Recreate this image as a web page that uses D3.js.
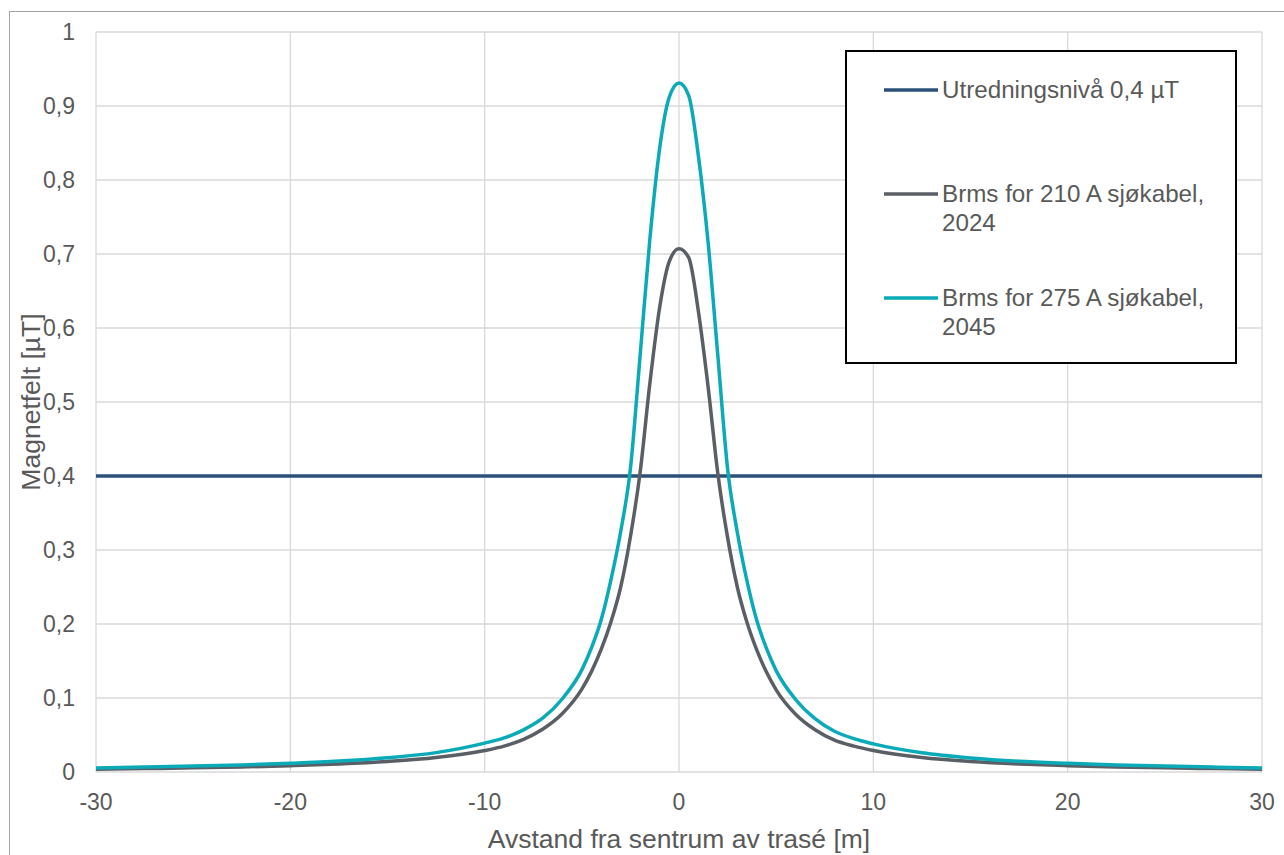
<!DOCTYPE html>
<html>
<head>
<meta charset="utf-8">
<script src="https://cdn.jsdelivr.net/npm/d3@7"></script>
<style>
  body { margin: 0; background: #fff; }
  svg { display: block; font-family: "Liberation Sans", Arial, sans-serif; }
  .grid line { stroke: #d9d9d9; stroke-width: 1.3; }
  .tick-label { fill: #595959; font-size: 23px; }
  .axis-title { fill: #595959; font-size: 26.5px; }
  .legend-text { fill: #595959; font-size: 24.2px; }
</style>
</head>
<body>
<svg id="chart" width="1284" height="855"></svg>
<script>
// distance from cable route [m]
const distances = [-30, -27.5, -25, -22.5, -20, -17.5, -15, -12.5, -10, -9, -8, -7, -6, -5, -4.5, -4, -3.5, -3, -2.5, -2, -1.5, -1, -0.5, 0,
                   0.5, 1, 1.5, 2, 2.5, 3, 3.5, 4, 4.5, 5, 6, 7, 8, 9, 10, 12.5, 15, 17.5, 20, 22.5, 25, 27.5, 30];
// Brms 210 A, 2024 [uT]
const brms210 = [0.0038, 0.0046, 0.0056, 0.0068, 0.0085, 0.0108, 0.0142, 0.0195, 0.029, 0.035, 0.044, 0.058, 0.079, 0.112, 0.136, 0.166, 0.203, 0.25, 0.318, 0.405, 0.525, 0.627, 0.69, 0.707,
                 0.695, 0.622, 0.52, 0.403, 0.317, 0.25, 0.202, 0.165, 0.135, 0.111, 0.078, 0.057, 0.043, 0.035, 0.029, 0.0195, 0.0142, 0.0108, 0.0085, 0.0068, 0.0056, 0.0046, 0.0038];
// Brms 275 A, 2045 [uT]
const brms275 = [0.0055, 0.0066, 0.008, 0.0096, 0.0118, 0.0147, 0.0192, 0.0262, 0.039, 0.046, 0.057, 0.073, 0.099, 0.138, 0.168, 0.206, 0.26, 0.325, 0.41, 0.563, 0.72, 0.842, 0.912, 0.931,
                 0.914, 0.832, 0.715, 0.562, 0.41, 0.324, 0.258, 0.205, 0.167, 0.137, 0.098, 0.072, 0.055, 0.045, 0.038, 0.026, 0.019, 0.0145, 0.0118, 0.0096, 0.008, 0.0066, 0.0055];
const level = 0.4;

const xTicks = [-30, -20, -10, 0, 10, 20, 30];
const yTicks = [0, 0.1, 0.2, 0.3, 0.4, 0.5, 0.6, 0.7, 0.8, 0.9, 1];

const legendItems = [
    {lines: ["Utredningsnivå 0,4 µT"], color: "#2b5078"},
    {lines: ["Brms for 210 A sjøkabel,", "2024"], color: "#5a5f66"},
    {lines: ["Brms for 275 A sjøkabel,", "2045"], color: "#0aaab9"}
];

const svg = d3.select("#chart");
const margin = {left: 96, top: 32, right: 1262, bottom: 772};

const x = d3.scaleLinear().domain([-30, 30]).range([margin.left, margin.right]);
const y = d3.scaleLinear().domain([0, 1]).range([margin.bottom, margin.top]);

// chart area border
svg.append("rect")
    .attr("x", 9.5).attr("y", 11.5)
    .attr("width", 1300).attr("height", 900)
    .attr("fill", "none").attr("stroke", "#a6a6a6").attr("stroke-width", 1);

// gridlines
const grid = svg.append("g").attr("class", "grid");
grid.selectAll(".vg").data(xTicks).enter().append("line")
    .attr("x1", d => x(d)).attr("x2", d => x(d))
    .attr("y1", margin.top).attr("y2", margin.bottom);
grid.selectAll(".hg").data(yTicks).enter().append("line")
    .attr("x1", margin.left).attr("x2", margin.right)
    .attr("y1", d => y(d)).attr("y2", d => y(d));

// tick labels
const fmt = d => d3.format(".1~f")(d).replace(".", ",");
svg.append("g").selectAll("text").data(yTicks).enter().append("text")
    .attr("class", "tick-label")
    .attr("x", 75).attr("y", d => y(d))
    .attr("dy", "0.35em")
    .attr("text-anchor", "end")
    .text(fmt);
svg.append("g").selectAll("text").data(xTicks).enter().append("text")
    .attr("class", "tick-label")
    .attr("x", d => x(d)).attr("y", 810)
    .attr("text-anchor", "middle")
    .text(d => d);

// axis titles
svg.append("text").attr("class", "axis-title")
    .attr("x", x(0)).attr("y", 848)
    .attr("text-anchor", "middle")
    .text("Avstand fra sentrum av trasé [m]");
svg.append("text").attr("class", "axis-title")
    .attr("transform", "translate(40," + ((margin.top + margin.bottom) / 2) + ") rotate(-90)")
    .attr("text-anchor", "middle")
    .text("Magnetfelt [µT]");

// series
const line = d3.line()
    .x(d => x(d[0]))
    .y(d => y(d[1]))
    .curve(d3.curveMonotoneX);

svg.append("path")
    .datum([[-30, level], [30, level]])
    .attr("d", line)
    .attr("fill", "none").attr("stroke", legendItems[0].color).attr("stroke-width", 3.5);

svg.append("path")
    .datum(distances.map((d, i) => [d, brms210[i]]))
    .attr("d", line)
    .attr("fill", "none").attr("stroke", legendItems[1].color).attr("stroke-width", 3.5)
    .attr("stroke-linejoin", "round");

svg.append("path")
    .datum(distances.map((d, i) => [d, brms275[i]]))
    .attr("d", line)
    .attr("fill", "none").attr("stroke", legendItems[2].color).attr("stroke-width", 3.5)
    .attr("stroke-linejoin", "round");

// legend
const legend = svg.append("g");
legend.append("rect")
    .attr("x", 846).attr("y", 51)
    .attr("width", 390).attr("height", 312)
    .attr("fill", "#fff").attr("stroke", "#000").attr("stroke-width", 2);

const rowY = [90, 194, 298];
legendItems.forEach(function (item, i) {
    legend.append("line")
        .attr("x1", 884).attr("x2", 938)
        .attr("y1", rowY[i]).attr("y2", rowY[i])
        .attr("stroke", item.color).attr("stroke-width", 3.5);
    item.lines.forEach(function (t, j) {
        legend.append("text")
            .attr("class", "legend-text")
            .attr("x", 942).attr("y", rowY[i] + j * 28.5)
            .attr("dy", "0.35em")
            .text(t);
    });
});
</script>
</body>
</html>
